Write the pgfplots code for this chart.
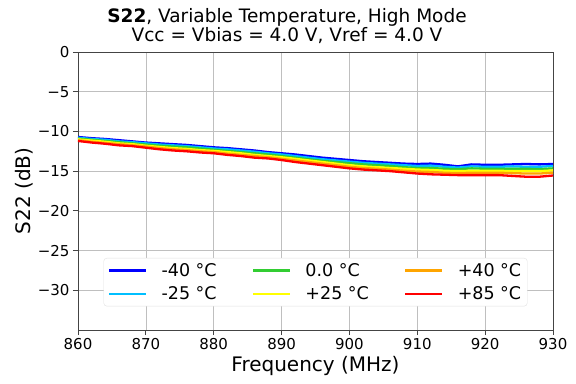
\documentclass[border=0pt]{standalone}
\usepackage{pgfplots}
\pgfplotsset{compat=1.18}
\usepackage{fontspec}
\setmainfont{DejaVu Sans}
\definecolor{cBlue}{HTML}{0000FF}
\definecolor{cCyan}{HTML}{00BFFF}
\definecolor{cGreen}{HTML}{32CD32}
\definecolor{cYellow}{HTML}{FFFF00}
\definecolor{cOrange}{HTML}{FFA500}
\definecolor{cRed}{HTML}{FF0000}
\definecolor{axgray}{HTML}{444444}
\definecolor{grid}{HTML}{E0E0E0}
\begin{document}
\begin{tikzpicture}
\begin{axis}[
  scale only axis,
  width=475pt, height=278pt,
  xmin=860, xmax=930, ymin=-35, ymax=0,
  xtick={860,870,880,890,900,910,920,930},
  xticklabels={860,870,880,890,900,910,920,930},
  ytick={0,-5,-10,-15,-20,-25,-30},
  yticklabels={0,−5,−10,−15,−20,−25,−30},
  tick label style={font=\fontsize{15}{17}\selectfont},
  tick align=outside, tick pos=left,
  major tick length=5pt,
  every tick/.style={axgray, line width=0.8pt},
  axis line style={axgray, line width=0.8pt},
  grid=major, major grid style={grid, line width=0.6pt},
  xlabel={Frequency (MHz)}, ylabel={S22 (dB)},
  label style={font=\fontsize{20}{23}\selectfont},
  ylabel style={yshift=-2pt},
  title={\textbf{S22}, Variable Temperature, High Mode\\Vcc = Vbias = 4.0 V, Vref = 4.0 V},
  title style={font=\fontsize{18.5}{17.5}\selectfont, align=center, xshift=-28.5pt, yshift=-1pt},
  legend columns=2, transpose legend,
  legend style={at={(0.5,0.085)}, anchor=south, draw=grid, rounded corners=3pt,
    font=\fontsize{17.5}{20}\selectfont, row sep=5pt, inner ysep=3pt, inner xsep=4pt,
    /tikz/every odd column/.append style={column sep=12pt},
    /tikz/every even column/.append style={column sep=33pt}},
  legend image code/.code={\draw[#1, line width=2.8pt] (0pt,0pt) -- (37pt,0pt);},
  legend cell align=left,
  every axis plot/.append style={line width=2.3pt, line join=round},
]
\coordinate (sw) at (rel axis cs:0,0);
\coordinate (ne) at (rel axis cs:1,1);
\addplot[cBlue] coordinates {
(860,-10.7)(862,-10.85)(864,-10.95)(866,-11.1)(868,-11.25)(870,-11.4)(872,-11.5)(874,-11.6)(876,-11.7)(878,-11.85)(880,-12.0)(882,-12.1)(884,-12.25)(886,-12.4)(888,-12.6)(890,-12.75)(892,-12.9)(894,-13.1)(896,-13.3)(898,-13.45)(900,-13.6)(902,-13.75)(904,-13.85)(906,-13.95)(908,-14.05)(910,-14.1)(912,-14.05)(914,-14.2)(916,-14.4)(918,-14.15)(920,-14.2)(922,-14.2)(924,-14.15)(926,-14.1)(928,-14.15)(930,-14.1)};
\addlegendentry{-40 °C}
\addplot[cCyan] coordinates {
(860,-10.8)(862,-10.95)(864,-11.05)(866,-11.25)(868,-11.35)(870,-11.5)(872,-11.65)(874,-11.75)(876,-11.85)(878,-12.0)(880,-12.15)(882,-12.25)(884,-12.4)(886,-12.55)(888,-12.75)(890,-12.9)(892,-13.1)(894,-13.3)(896,-13.5)(898,-13.65)(900,-13.8)(902,-13.95)(904,-14.05)(906,-14.15)(908,-14.25)(910,-14.35)(912,-14.3)(914,-14.45)(916,-14.55)(918,-14.4)(920,-14.45)(922,-14.45)(924,-14.4)(926,-14.45)(928,-14.45)(930,-14.35)};
\addlegendentry{-25 °C}
\addplot[cGreen] coordinates {
(860,-10.9)(862,-11.05)(864,-11.2)(866,-11.35)(868,-11.5)(870,-11.65)(872,-11.8)(874,-11.9)(876,-12.0)(878,-12.15)(880,-12.3)(882,-12.45)(884,-12.6)(886,-12.75)(888,-12.9)(890,-13.1)(892,-13.3)(894,-13.5)(896,-13.7)(898,-13.85)(900,-14.0)(902,-14.15)(904,-14.25)(906,-14.35)(908,-14.5)(910,-14.6)(912,-14.6)(914,-14.7)(916,-14.75)(918,-14.65)(920,-14.7)(922,-14.7)(924,-14.7)(926,-14.7)(928,-14.75)(930,-14.65)};
\addlegendentry{0.0 °C}
\addplot[cYellow] coordinates {
(860,-11.0)(862,-11.15)(864,-11.3)(866,-11.5)(868,-11.6)(870,-11.8)(872,-11.95)(874,-12.1)(876,-12.2)(878,-12.35)(880,-12.45)(882,-12.6)(884,-12.75)(886,-12.95)(888,-13.1)(890,-13.25)(892,-13.45)(894,-13.65)(896,-13.85)(898,-14.05)(900,-14.25)(902,-14.4)(904,-14.5)(906,-14.6)(908,-14.7)(910,-14.8)(912,-14.85)(914,-14.95)(916,-15.0)(918,-14.95)(920,-14.95)(922,-14.95)(924,-15.0)(926,-15.0)(928,-15.0)(930,-14.9)};
\addlegendentry{+25 °C}
\addplot[cOrange] coordinates {
(860,-11.1)(862,-11.3)(864,-11.45)(866,-11.6)(868,-11.75)(870,-11.9)(872,-12.1)(874,-12.25)(876,-12.35)(878,-12.5)(880,-12.6)(882,-12.8)(884,-12.95)(886,-13.1)(888,-13.25)(890,-13.45)(892,-13.65)(894,-13.85)(896,-14.05)(898,-14.25)(900,-14.45)(902,-14.6)(904,-14.7)(906,-14.8)(908,-14.95)(910,-15.05)(912,-15.1)(914,-15.2)(916,-15.25)(918,-15.2)(920,-15.2)(922,-15.2)(924,-15.25)(926,-15.3)(928,-15.3)(930,-15.2)};
\addlegendentry{+40 °C}
\addplot[cRed] coordinates {
(860,-11.2)(862,-11.4)(864,-11.55)(866,-11.75)(868,-11.85)(870,-12.05)(872,-12.25)(874,-12.4)(876,-12.5)(878,-12.65)(880,-12.75)(882,-12.95)(884,-13.1)(886,-13.3)(888,-13.4)(890,-13.6)(892,-13.85)(894,-14.05)(896,-14.25)(898,-14.45)(900,-14.65)(902,-14.8)(904,-14.9)(906,-15.0)(908,-15.15)(910,-15.3)(912,-15.4)(914,-15.45)(916,-15.5)(918,-15.5)(920,-15.5)(922,-15.5)(924,-15.6)(926,-15.7)(928,-15.7)(930,-15.55)};
\addlegendentry{+85 °C}
\end{axis}
\path ([shift={(-78pt,-53pt)}]sw) rectangle ([shift={(23pt,52pt)}]ne);
\end{tikzpicture}
\end{document}
